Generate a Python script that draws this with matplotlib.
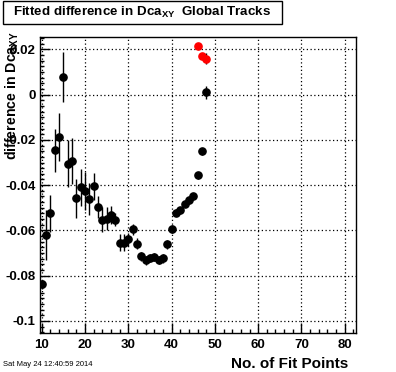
#!/usr/bin/env python3
# plot.py - Fitted difference in Dca_XY vs number of fit points (ROOT-style canvas)

import matplotlib
matplotlib.use('Agg')
import matplotlib.pyplot as plt
from matplotlib.ticker import MultipleLocator
from matplotlib.patches import Rectangle

# black points: main fit result per number of fit points
fit_points = [10, 11, 12, 13, 14, 15, 16, 17, 18, 19, 20, 21, 22, 23, 24, 25,
              26, 27, 28, 29, 30, 31, 32, 33, 34, 35, 36, 37, 38, 39, 40, 41,
              42, 43, 44, 45, 46, 47, 48]
dca_diff = [-0.0838, -0.0621, -0.0525, -0.0246, -0.0187, 0.0078, -0.0305, -0.0293,
            -0.0459, -0.0410, -0.0427, -0.0462, -0.0405, -0.0496, -0.0552, -0.0548,
            -0.0533, -0.0552, -0.0655, -0.0654, -0.0640, -0.0596, -0.0658, -0.0714,
            -0.0732, -0.0721, -0.0717, -0.0732, -0.0724, -0.0662, -0.0592, -0.0521,
            -0.0511, -0.0483, -0.0467, -0.0448, -0.0356, -0.0250, 0.0010]
dca_err = [0.0020, 0.0110, 0.0080, 0.0096, 0.0107, 0.0110, 0.0103, 0.0103,
           0.0085, 0.0080, 0.0085, 0.0070, 0.0060, 0.0050, 0.0055, 0.0050,
           0.0040, 0.0030, 0.0037, 0.0037, 0.0030, 0.0026, 0.0025, 0.0020,
           0.0020, 0.0018, 0.0018, 0.0018, 0.0018, 0.0020, 0.0018, 0.0015,
           0.0015, 0.0015, 0.0015, 0.0015, 0.0015, 0.0015, 0.0028]

# red points
red_points = [46, 47, 48]
red_diff = [0.0213, 0.0169, 0.0159]
red_err = [0.0008, 0.0010, 0.0025]

x_ticks = [10, 20, 30, 40, 50, 60, 70, 80]
y_ticks = [-0.1, -0.08, -0.06, -0.04, -0.02, 0.0, 0.02]
y_tick_labels = ['-0.1', '-0.08', '-0.06', '-0.04', '-0.02', '0', '0.02']

FONT = 'Liberation Sans'


def setup_style():
    """ROOT-like look: bold Helvetica-ish text, inward ticks"""
    plt.rcParams['font.family'] = [FONT, 'DejaVu Sans']
    plt.rcParams['font.weight'] = 'bold'
    plt.rcParams['mathtext.fontset'] = 'custom'
    plt.rcParams['mathtext.rm'] = FONT + ':bold'
    plt.rcParams['mathtext.default'] = 'rm'


def draw_chart():
    fig = plt.figure(figsize=(3.96, 3.72), dpi=100)
    ax = fig.add_axes([0.101, 0.104, 0.798, 0.796])

    ax.errorbar(fit_points, dca_diff, yerr=dca_err, fmt='o', color='black',
                ecolor='black', elinewidth=1, markersize=5.2, capsize=0, zorder=3)
    ax.errorbar(red_points, red_diff, yerr=red_err, fmt='o', color='red',
                ecolor='black', elinewidth=1, markersize=5.2, capsize=0, zorder=4)

    ax.set_xlim(9.6, 82.6)
    ax.set_ylim(-0.1055, 0.0254)

    ax.xaxis.set_major_locator(MultipleLocator(10))
    ax.xaxis.set_minor_locator(MultipleLocator(2))
    ax.set_yticks(y_ticks)
    ax.set_yticklabels(y_tick_labels)
    ax.yaxis.set_minor_locator(MultipleLocator(0.0025))
    ax.set_xticks(x_ticks)

    ax.tick_params(which='both', direction='in', top=False, right=False,
                   labelsize=9.5, width=1)
    ax.tick_params(which='major', length=7)
    ax.tick_params(which='minor', length=3)
    ax.tick_params(axis='x', pad=4)
    ax.tick_params(axis='y', pad=3)
    for lab in ax.get_xticklabels() + ax.get_yticklabels():
        lab.set_fontweight('bold')

    ax.grid(True, which='major', linestyle=(0, (1, 2)), color='black', linewidth=0.9)
    for spine in ax.spines.values():
        spine.set_linewidth(1)

    # title box
    fig.patches.append(Rectangle((3 / 396, 1 - 24 / 372), 279 / 396, 23 / 372,
                                 transform=fig.transFigure, facecolor='white',
                                 edgecolor='black', linewidth=1))
    fig.text(13 / 396, 1 - 12.5 / 372,
             r'Fitted difference in Dca$_{XY}$  Global Tracks',
             fontsize=9.6, fontweight='bold', va='center', ha='left')

    # axis titles
    fig.text(12 / 396, 1 - 31 / 372, r'difference in Dca$_{XY}$', rotation=90,
             fontsize=10.2, fontweight='bold', ha='center', va='top')
    fig.text(348 / 396, 1 - 364 / 372, 'No. of Fit Points',
             fontsize=11, fontweight='bold', ha='right', va='center')

    # date stamp
    fig.text(3 / 396, 1 - 364 / 372, 'Sat May 24 12:40:59 2014',
             fontsize=5.5, fontweight='normal', ha='left', va='center')

    fig.savefig('out.png', dpi=100)
    plt.close(fig)


def main():
    setup_style()
    draw_chart()


if __name__ == "__main__":
    main()
